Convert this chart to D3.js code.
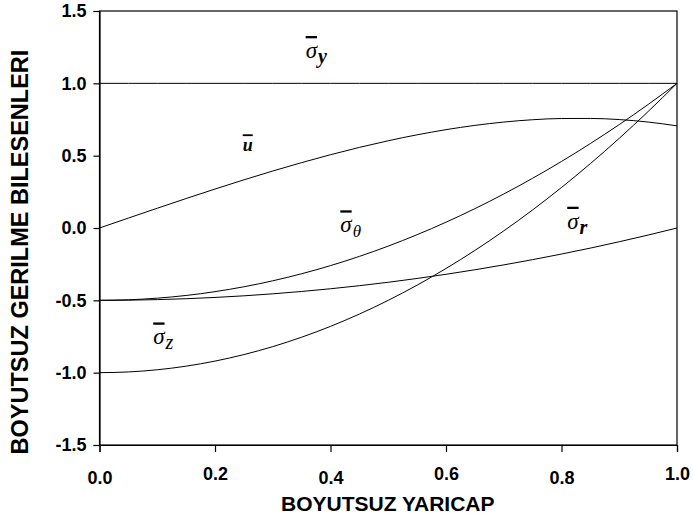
<!DOCTYPE html>
<html>
<head>
<meta charset="utf-8">
<script src="https://cdn.jsdelivr.net/npm/d3@7/dist/d3.min.js"></script>
<style>
  html, body { margin: 0; padding: 0; background: #fff; }
  svg { display: block; }
  .tick-label { font-family: "Liberation Sans", Arial, sans-serif; font-weight: bold; font-size: 18px; fill: #000; }
  .axis-title { font-family: "Liberation Sans", Arial, sans-serif; font-weight: bold; font-size: 21px; fill: #000; }
  .curve-label { font-family: "Liberation Serif", "Times New Roman", serif; font-style: italic; fill: #000; }
</style>
</head>
<body>
<svg id="chart" width="693" height="518"></svg>
<script>
// Dimensionless radius
const radius = [0, 0.05, 0.1, 0.15, 0.2, 0.25, 0.3, 0.35, 0.4, 0.45, 0.5,
                0.55, 0.6, 0.65, 0.7, 0.75, 0.8, 0.85, 0.9, 0.95, 1];

// Dimensionless stress components and displacement
const sigmaY = [1, 1, 1, 1, 1, 1, 1, 1, 1, 1, 1, 1, 1, 1, 1, 1, 1, 1, 1, 1, 1];
const uBar = [0, 0.0686, 0.1366, 0.2037, 0.2693, 0.3328, 0.3939, 0.4520, 0.5065, 0.5571, 0.6031,
              0.6442, 0.6797, 0.7093, 0.7323, 0.7484, 0.7569, 0.7574, 0.7495, 0.7325, 0.706];
const sigmaTheta = [-0.5, -0.4963, -0.485, -0.4663, -0.44, -0.4063, -0.365, -0.3163, -0.26, -0.1963, -0.125,
                    -0.0463, 0.04, 0.1338, 0.235, 0.3438, 0.46, 0.5838, 0.715, 0.8538, 1];
const sigmaR = [-0.5, -0.4988, -0.495, -0.4888, -0.48, -0.4688, -0.455, -0.4388, -0.42, -0.3988, -0.375,
                -0.3488, -0.32, -0.2888, -0.255, -0.2188, -0.18, -0.1388, -0.095, -0.0488, 0];
const sigmaZ = [-1, -0.995, -0.98, -0.955, -0.92, -0.875, -0.82, -0.755, -0.68, -0.595, -0.5,
                -0.395, -0.28, -0.155, -0.02, 0.125, 0.28, 0.445, 0.62, 0.805, 1];

// Tick values
const xTicks = [0, 0.2, 0.4, 0.6, 0.8, 1.0];
const yTicks = [-1.5, -1.0, -0.5, 0.0, 0.5, 1.0, 1.5];

// Curve labels: symbol, subscript, anchor (data units)
const labelNames = ["sigmaY", "u", "sigmaTheta", "sigmaR", "sigmaZ"];
const labelSubs = ["y", "", "θ", "r", "z"];
const labelX = [0.357, 0.248, 0.417, 0.81, 0.093];
const labelY = [1.175, 0.53, -0.03, -0.005, -0.805];

const xTitle = "BOYUTSUZ YARICAP";
const yTitle = "BOYUTSUZ GERILME BILESENLERI";

const svg = d3.select("#chart");
const plotLeft = 99.5, plotRight = 677, plotTop = 11, plotBottom = 445;

const x = d3.scaleLinear().domain([0, 1]).range([plotLeft, plotRight]);
const y = d3.scaleLinear().domain([-1.5, 1.5]).range([plotBottom, plotTop]);

// Frame
svg.append("rect")
  .attr("x", plotLeft).attr("y", plotTop)
  .attr("width", plotRight - plotLeft).attr("height", plotBottom - plotTop)
  .attr("fill", "none").attr("stroke", "#000").attr("stroke-width", 1.2);

// Axes
const yAxis = d3.axisLeft(y).tickValues(yTicks).tickSize(6).tickPadding(7)
  .tickFormat(d3.format(".1f"));
const xAxis = d3.axisBottom(x).tickValues(xTicks).tickSize(7).tickPadding(0)
  .tickFormat(d3.format(".1f"));

const gy = svg.append("g").attr("transform", `translate(${plotLeft},0)`).call(yAxis);
const gx = svg.append("g").attr("transform", `translate(0,${plotBottom})`).call(xAxis);

[gy, gx].forEach(g => {
  g.attr("font-size", null).attr("font-family", null);
  g.select(".domain").attr("stroke", "#000").attr("stroke-width", 1.2);
  g.selectAll(".tick line").attr("stroke", "#000").attr("stroke-width", 1.2);
  g.selectAll(".tick text").attr("class", "tick-label").style("font-size", "18px");
});
gy.selectAll(".tick text").text(d => d3.format(".1f")(d).replace("−", "-"));
// x labels alternate slightly in height
gx.selectAll(".tick text").attr("y", 0).attr("dy", null)
  .attr("transform", (d, i) => `translate(0,${i % 2 === 1 ? 35 : 39})`);

// Curves
const line = d3.line()
  .x((d, i) => x(radius[i]))
  .y(d => y(d))
  .curve(d3.curveMonotoneX);

[sigmaY, uBar, sigmaTheta, sigmaR, sigmaZ].forEach(series => {
  svg.append("path")
    .datum(series)
    .attr("d", line)
    .attr("fill", "none")
    .attr("stroke", "#000")
    .attr("stroke-width", 1);
});

// Curve labels
labelNames.forEach((name, i) => {
  const t = svg.append("text")
    .attr("class", "curve-label")
    .attr("x", x(labelX[i]))
    .attr("y", y(labelY[i]));
  if (name === "u") {
    t.append("tspan")
      .style("font-size", "18px").attr("font-weight", "bold")
      .style("text-decoration", "overline")
      .text("u");
  } else {
    t.append("tspan")
      .style("font-size", "23px")
      .style("text-decoration", "overline")
      .text("σ");
    t.append("tspan")
      .style("font-size", labelSubs[i] === "θ" ? "17px" : "20px")
      .attr("font-weight", labelSubs[i] === "y" || labelSubs[i] === "r" ? "bold" : "normal")
      .attr("dx", 1)
      .attr("dy", 5)
      .text(labelSubs[i]);
  }
});

// Axis titles
svg.append("text")
  .attr("class", "axis-title")
  .attr("x", (plotLeft + plotRight) / 2 - 0.5)
  .attr("y", 511)
  .attr("text-anchor", "middle")
  .text(xTitle);

svg.append("text")
  .attr("class", "axis-title")
  .style("font-size", "23.5px")
  .attr("transform", `translate(28,252) rotate(-90)`)
  .attr("text-anchor", "middle")
  .text(yTitle);
</script>
</body>
</html>
